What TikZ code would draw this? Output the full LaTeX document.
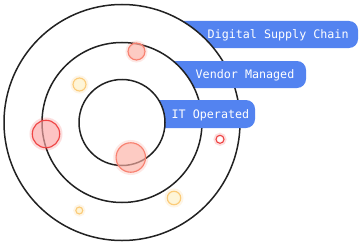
\documentclass[tikz,border=0pt]{standalone}
\usepackage{fontspec}
\setmonofont{DejaVu Sans Mono}
\usetikzlibrary{positioning}
\definecolor{tblue}{HTML}{5383F0}
\definecolor{tink}{HTML}{222222}
\definecolor{tred}{HTML}{EF4444}
\definecolor{tredfill}{HTML}{FCA5A5}
\definecolor{tsal}{HTML}{F8806F}
\definecolor{tsalfill}{HTML}{FDB0A4}
\definecolor{tyel}{HTML}{FBCB78}
\definecolor{tyelfill}{HTML}{FEF0C4}

\begin{document}
\begin{tikzpicture}[x=1pt,y=-1pt,
  ring/.style={circle,draw=tink,line width=1.5pt,fill=white,inner sep=0pt},
  bar/.style={fill=tblue,rounded corners=9pt},
  tag/.style={font=\ttfamily\fontsize{11.7}{13}\selectfont,text=white,
              anchor=base west,inner sep=0pt},
  spot/.style={circle,inner sep=0pt,line width=1.1pt,fill opacity=0.65},
  glow/.style={circle,inner sep=0pt,line width=4pt,draw opacity=0.18}]

  \useasboundingbox (0,0) rectangle (363,246);
  \coordinate (c) at (122,122.5);

  % rings drawn from the outside in, each bar under the next ring
  \fill[bar] (122,21) rectangle (358,48);
  \node[tag] (dsc) at (207.5,38.8) {Digital Supply Chain};
  \node[ring,minimum size=236pt] (outer) at (c) {};

  \fill[bar] (122,61) rectangle (306,88);
  \node[tag] (vm) at (195.5,78.6) {Vendor Managed};
  \node[ring,minimum size=160pt] (middle) at (c) {};

  \fill[bar] (122,100) rectangle (255,128);
  \node[tag] (ito) at (171.5,118.4) {IT Operated};
  \node[ring,minimum size=86pt] (inner) at (c) {};

  % spots
  \node[glow,draw=tsal,minimum size=18pt] at (136.5,51.5) {};
  \node[spot,draw=tsal,fill=tsalfill,minimum size=17pt] (s1) at (136.5,51.5) {};
  \node[glow,draw=tyel,minimum size=14pt] at (79.5,84.5) {};
  \node[spot,draw=tyel,fill=tyelfill,minimum size=13pt] (y1) at (79.5,84.5) {};
  \node[glow,draw=tred,minimum size=29pt] at (46,134) {};
  \node[spot,draw=tred,fill=tredfill,minimum size=27.5pt] (r1) at (46,134) {};
  \node[glow,draw=tsal,minimum size=31pt] at (130.8,157.5) {};
  \node[spot,draw=tsal,fill=tsalfill,minimum size=29.5pt] (s2) at (130.8,157.5) {};
  \node[glow,draw=tred,minimum size=9pt] at (220,139.3) {};
  \node[spot,draw=tred,fill=white,minimum size=8pt] (r2) at (220,139.3) {};
  \node[glow,draw=tyel,minimum size=15pt] at (174,198) {};
  \node[spot,draw=tyel,fill=tyelfill,minimum size=13.5pt] (y2) at (174,198) {};
  \node[glow,draw=tyel,minimum size=8pt] at (79.3,210.5) {};
  \node[spot,draw=tyel,fill=tyelfill,minimum size=7pt] (y3) at (79.3,210.5) {};
\end{tikzpicture}
\end{document}
